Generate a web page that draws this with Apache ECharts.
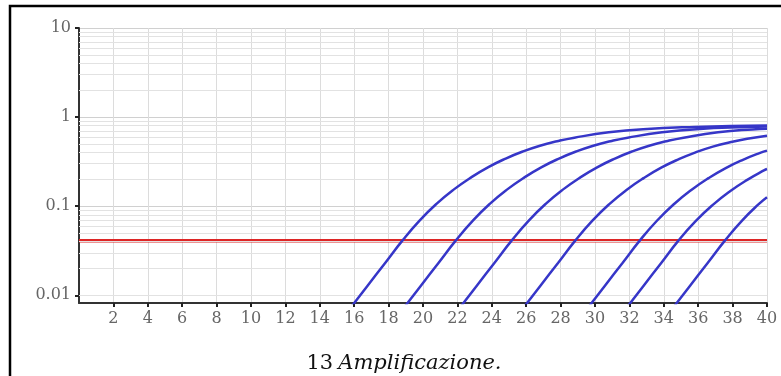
<!DOCTYPE html>
<html>
<head>
<meta charset="utf-8">
<script src="https://cdn.jsdelivr.net/npm/echarts@6/dist/echarts.min.js"></script>
<style>
  html, body { margin: 0; padding: 0; background: #fff; }
  #chart { width: 781px; height: 376px; }
</style>
</head>
<body>
<div id="chart"></div>
<script>
// amplification curves: [cycle, fluorescence]
const curve1 = [[15.6, 0.0065], [16.8, 0.013], [17.8, 0.0231], [18.8, 0.0411], [19.8, 0.069], [20.8, 0.1069], [21.8, 0.1545], [22.8, 0.2109], [23.8, 0.2748], [24.8, 0.342], [25.8, 0.4111], [26.8, 0.4775], [27.8, 0.5358], [28.8, 0.5875], [30.8, 0.6745], [32.8, 0.7328], [35.8, 0.7745], [40, 0.8054]];
const curve2 = [[18.7, 0.0065], [19.9, 0.013], [20.9, 0.0231], [21.9, 0.0411], [22.9, 0.069], [23.9, 0.1069], [24.9, 0.1545], [25.9, 0.2109], [26.9, 0.2748], [27.9, 0.342], [28.9, 0.4111], [29.9, 0.4775], [30.9, 0.5358], [31.9, 0.5875], [33.9, 0.6745], [35.9, 0.7328], [38.9, 0.7745], [40, 0.782]];
const curve3 = [[21.95, 0.0065], [23.15, 0.013], [24.15, 0.0231], [25.15, 0.0411], [26.15, 0.069], [27.15, 0.1069], [28.15, 0.1545], [29.15, 0.2109], [30.15, 0.2748], [31.15, 0.342], [32.15, 0.4111], [33.15, 0.4775], [34.15, 0.5358], [35.15, 0.5875], [37.15, 0.6745], [39.15, 0.728], [40, 0.738]];
const curve4 = [[25.65, 0.0065], [26.85, 0.013], [27.85, 0.0231], [28.85, 0.0411], [29.85, 0.0689], [30.85, 0.1064], [31.85, 0.1531], [32.85, 0.208], [33.85, 0.2704], [34.85, 0.3357], [35.85, 0.4027], [36.85, 0.4667], [37.85, 0.5224], [38.85, 0.5728], [40, 0.6194]];
const curve5 = [[29.4, 0.0065], [30.6, 0.013], [31.6, 0.0231], [32.6, 0.0411], [33.6, 0.0687], [34.6, 0.1059], [35.6, 0.1521], [36.6, 0.2065], [37.6, 0.2679], [38.6, 0.3319], [39.6, 0.3972], [40, 0.4207]];
const curve6 = [[31.65, 0.0065], [32.85, 0.013], [33.85, 0.0231], [34.85, 0.0411], [35.85, 0.0679], [36.85, 0.1035], [37.85, 0.1472], [38.85, 0.1977], [39.85, 0.2541], [40, 0.2612]];
const curve7 = [[34.35, 0.0065], [35.55, 0.013], [36.55, 0.0231], [37.55, 0.0411], [38.55, 0.069], [39.55, 0.1069], [40, 0.1262]];

const curves = [curve1, curve2, curve3, curve4, curve5, curve6, curve7];

// threshold line
const threshold = 0.041;
const cycleRange = [0, 40];

// minor log grid values
const minorGrid = [0.009,
  0.02, 0.03, 0.04, 0.05, 0.06, 0.07, 0.08, 0.09,
  0.2, 0.3, 0.4, 0.5, 0.6, 0.7, 0.8, 0.9,
  2, 3, 4, 5, 6, 7, 8, 9];

const captionNum = "13";
const captionText = "Amplificazione.";

const chart = echarts.init(document.getElementById("chart"));

const labelFont = {
  color: "#666",
  fontFamily: "DejaVu Serif",
  fontSize: 16,
};

let series = curves.map((c) => ({
  type: "line",
  data: c,
  smooth: 0.5,
  showSymbol: false,
  clip: true,
  silent: true,
  lineStyle: { color: "#3636c8", width: 2.5 },
  z: 5,
}));

series.push({
  type: "line",
  data: [[cycleRange[0], threshold], [cycleRange[1], threshold]],
  showSymbol: false,
  silent: true,
  lineStyle: { color: "#dd2626", width: 3.5 },
  z: 4,
});

// minor grid lines through the y scale
series.push({
  type: "line",
  data: [],
  silent: true,
  z: 1,
  markLine: {
    silent: true,
    symbol: "none",
    animation: false,
    label: { show: false },
    lineStyle: { color: "#e2e2e2", width: 1, type: "solid" },
    data: minorGrid.map((v) => ({ yAxis: v })),
  },
});

const option = {
  backgroundColor: "#fff",
  animation: false,
  title: {
    text: "{n|" + captionNum + "} {i|" + captionText + "}",
    left: 399,
    top: 348,
    textAlign: "center",
    textStyle: {
      fontWeight: "normal",
      rich: {
        n: { fontFamily: "DejaVu Serif", fontWeight: "normal", fontSize: 21, color: "#111" },
        i: { fontFamily: "DejaVu Serif", fontStyle: "italic", fontWeight: "normal", fontSize: 21, color: "#111" },
      },
    },
  },
  graphic: [
    {
      type: "rect",
      shape: { x: 10, y: 6, width: 800, height: 400 },
      style: { fill: "none", stroke: "#000", lineWidth: 2.5 },
      silent: true,
    },
  ],
  grid: {
    left: 79,
    top: 28,
    width: 688,
    height: 275,
  },
  xAxis: {
    type: "value",
    min: cycleRange[0],
    max: cycleRange[1],
    interval: 2,
    axisLine: { onZero: false, lineStyle: { color: "#333", width: 2 } },
    axisTick: { length: 4, lineStyle: { color: "#222", width: 2 } },
    axisLabel: { ...labelFont, showMinLabel: false, margin: 8 },
    splitLine: { show: true, lineStyle: { color: "#dcdcdc", width: 1 } },
  },
  yAxis: {
    type: "log",
    logBase: 10,
    min: 0.0082,
    max: 10,
    axisLine: { show: true, lineStyle: { color: "#333", width: 2 } },
    axisTick: { show: true, length: 4, lineStyle: { color: "#222", width: 2 } },
    axisLabel: { ...labelFont, showMinLabel: false, margin: 8 },
    splitLine: { show: true, lineStyle: { color: "#d0d0d0", width: 1 } },
  },
  series: series,
};

chart.setOption(option);
</script>
</body>
</html>
